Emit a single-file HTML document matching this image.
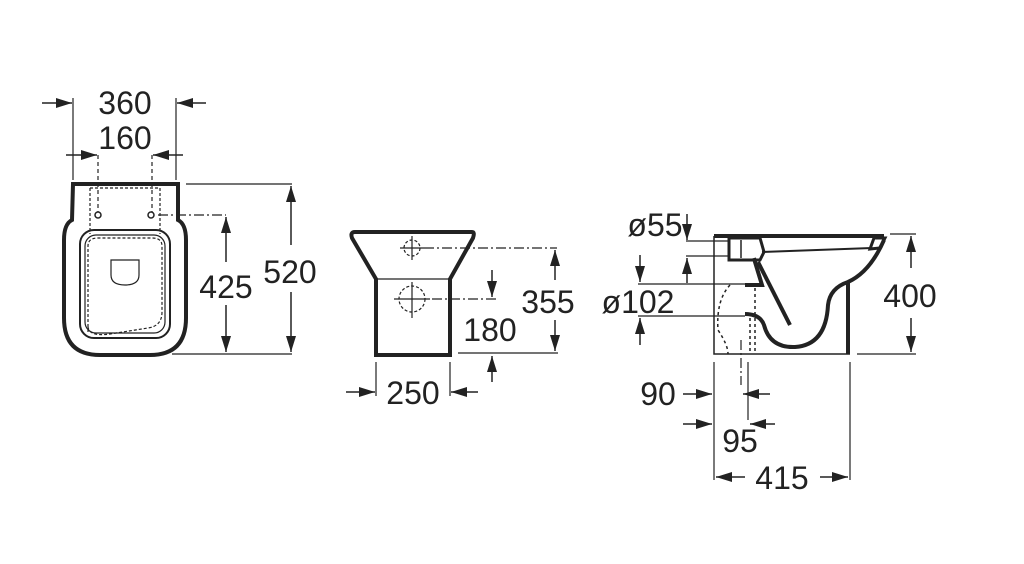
<!DOCTYPE html>
<html><head><meta charset="utf-8"><style>
html,body{margin:0;padding:0;background:#fff;width:1024px;height:564px;overflow:hidden}
svg text{font-family:"Liberation Sans",sans-serif;font-size:32px;fill:#222}
</style></head><body>
<svg width="1024" height="564" viewBox="0 0 1024 564" xmlns="http://www.w3.org/2000/svg">
<defs>
<marker id="a" markerWidth="16" markerHeight="10" refX="16" refY="5" orient="auto" markerUnits="userSpaceOnUse">
<path d="M0,0 L16,5 L0,10 Z" fill="#222"/></marker>
</defs>
<g stroke="#222" fill="none" stroke-width="1.5">
<!-- LEFT VIEW -->
<path d="M73,184 L178,184 L178,220 Q186,224 186,240 L186,318 Q186,355 150,355 L100,355 Q64,355 64,318 L64,240 Q64,224 72,220 Z" stroke-width="4"/>
<rect x="80" y="230" width="90" height="108" rx="14" stroke-width="2"/>
<rect x="85" y="235" width="80" height="98" rx="11" stroke-width="1.2"/>
<path d="M88,332 L88,246 Q88,238 98,238 L152,238 Q162,238 162,246 L162,312 Q162,326 148,328 L110,334 Q88,337 88,326" stroke-dasharray="3,2" stroke-width="1.2"/>
<path d="M90,188 L90,234 M160,188 L160,234 M90,188 L160,188" stroke-dasharray="3,2" stroke-width="1.2"/>
<path d="M111,260 L139,260 L139,275 Q139,285 125,285 Q111,285 111,275 Z" stroke-width="1.2"/>
<circle cx="98" cy="215" r="3"/><circle cx="151" cy="215" r="3"/>
<path d="M73,98 L73,180 M176,98 L176,180" stroke-width="1.2"/>
<path d="M42,103 L72,103" marker-end="url(#a)"/>
<path d="M206,103 L177,103" marker-end="url(#a)"/>
<path d="M98,155 L98,212 M152,155 L152,212" stroke-dasharray="4,3" stroke-width="1.2"/>
<path d="M66,155 L97,155" marker-end="url(#a)"/>
<path d="M183,155 L153,155" marker-end="url(#a)"/>
<path d="M186,184 L292,184 M172,354 L292,354" stroke-width="1.2"/>
<path d="M291,245 L291,186" marker-end="url(#a)"/>
<path d="M291,292 L291,352" marker-end="url(#a)"/>
<path d="M158,215 L226,215" stroke-dasharray="10,3,2,3" stroke-width="1.2"/>
<path d="M226,262 L226,217" marker-end="url(#a)"/>
<path d="M226,305 L226,352" marker-end="url(#a)"/>
<!-- MIDDLE VIEW -->
<path d="M355,232 L472,232 Q475,232 473,238 L450,279 L450,355 L376,355 L376,279 L352,238 Q350,232 355,232 Z" stroke-width="4"/>
<path d="M376,279 L450,279" stroke-width="1.2"/>
<circle cx="412" cy="248" r="8" stroke-dasharray="3,2" stroke-width="1.2"/>
<path d="M400,248 L424,248 M412,236 L412,260" stroke-width="1.2"/>
<circle cx="412" cy="299" r="13" stroke-dasharray="3,2" stroke-width="1.2"/>
<path d="M394,299 L430,299 M412,282 L412,318" stroke-width="1.2"/>
<path d="M424,248 L557,248 M432,299 L496,299" stroke-dasharray="10,3,2,3" stroke-width="1.2"/>
<path d="M458,353 L558,353" stroke-width="1.2"/>
<path d="M555,280 L555,250" marker-end="url(#a)"/>
<path d="M555,320 L555,351" marker-end="url(#a)"/>
<path d="M492,270 L492,297" marker-end="url(#a)"/>
<path d="M492,382 L492,356" marker-end="url(#a)"/>
<path d="M376,362 L376,396 M450,362 L450,396" stroke-width="1.2"/>
<path d="M346,392 L375,392" marker-end="url(#a)"/>
<path d="M478,392 L451,392" marker-end="url(#a)"/>
<!-- RIGHT VIEW -->
<path d="M714,236 L714,354 L850,354" stroke-width="1.5"/>
<path d="M714,236 L884,236" stroke-width="4"/>
<path d="M848,283 L848,354" stroke-width="4"/>
<path d="M762,252 L872,248" stroke-width="2"/>
<path d="M874,238 L885,238 L880,248 L870,249 Z" stroke-width="3"/>
<path d="M729,238 L760,238 L764,252 L760,260 L729,260 Z" stroke-width="3"/>
<path d="M741,240 L741,258" stroke-width="1.5"/>
<path d="M884,240 Q870,272 848,282 Q830,288 828,305 Q826,345 795,347 Q770,348 764,325 Q760,314 745,314" stroke-width="4"/>
<path d="M745,285 L762,285 L755,262 L754,258" stroke-width="4"/>
<path d="M758,262 L790,325" stroke-width="4"/>
<path d="M730,285 Q716,300 718,330 Q728,345 728,354" stroke-dasharray="3,3" stroke-width="1.5"/>
<path d="M755,288 L755,354 M750,318 L750,354" stroke-dasharray="3,3" stroke-width="1.5"/>
<path d="M741,340 L741,385" stroke-dasharray="10,3,2,3" stroke-width="1.2"/>
<path d="M748,362 L748,420" stroke-width="1.2"/>
<path d="M890,234 L916,234 M857,354 L916,354" stroke-width="1.2"/>
<path d="M911,268 L911,236" marker-end="url(#a)"/>
<path d="M911,318 L911,352" marker-end="url(#a)"/>
<path d="M686,241 L730,241 M686,256 L730,256 M638,284 L746,284 M638,316 L745,316" stroke-width="1.2"/>
<path d="M687,214 L687,240" marker-end="url(#a)"/>
<path d="M687,283 L687,258" marker-end="url(#a)"/>
<path d="M640,255 L640,282" marker-end="url(#a)"/>
<path d="M640,345 L640,318" marker-end="url(#a)"/>
<path d="M714,362 L714,480 M850,362 L850,480" stroke-width="1.2"/>
<path d="M683,394 L712,394" marker-end="url(#a)"/>
<path d="M770,394 L743,394" marker-end="url(#a)"/>
<path d="M683,424 L712,424" marker-end="url(#a)"/>
<path d="M775,424 L750,424" marker-end="url(#a)"/>
<path d="M745,477 L716,477" marker-end="url(#a)"/>
<path d="M820,477 L848,477" marker-end="url(#a)"/>
</g>
<g>
<text x="125" y="114" text-anchor="middle">360</text>
<text x="125" y="149" text-anchor="middle">160</text>
<text x="290" y="283" text-anchor="middle">520</text>
<text x="226" y="298" text-anchor="middle">425</text>
<text x="548" y="313" text-anchor="middle">355</text>
<text x="490" y="341" text-anchor="middle">180</text>
<text x="413" y="404" text-anchor="middle">250</text>
<text x="655" y="236" text-anchor="middle">ø55</text>
<text x="638" y="313" text-anchor="middle">ø102</text>
<text x="910" y="307" text-anchor="middle">400</text>
<text x="658" y="405" text-anchor="middle">90</text>
<text x="740" y="452" text-anchor="middle">95</text>
<text x="782" y="489" text-anchor="middle">415</text>
</g>
</svg>
</body></html>
